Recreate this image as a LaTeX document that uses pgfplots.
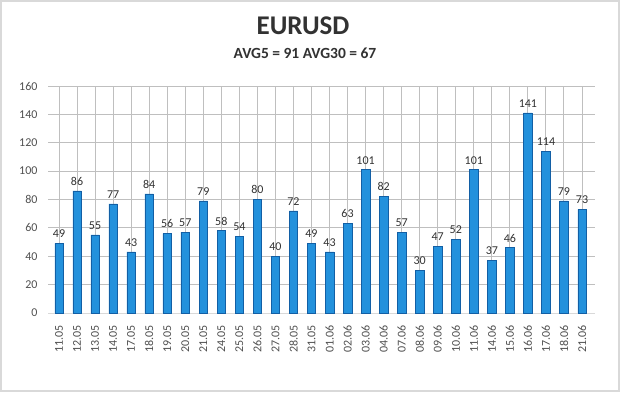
\documentclass[border=0pt]{standalone}
\usepackage{pgfplots}
\pgfplotsset{compat=1.18}
\usepackage{fontspec}
\setmainfont{Carlito}
\definecolor{barF}{RGB}{35,145,220}
\definecolor{barE}{RGB}{18,95,165}
\definecolor{txt}{RGB}{50,50,50}
\definecolor{tick}{RGB}{80,80,80}
\definecolor{grid}{RGB}{217,217,217}
\begin{document}
\begin{tikzpicture}[x=1pt,y=1pt]
\draw[grid, line width=2pt, fill=white] (1,1) rectangle (619,391);
\node[font=\bfseries\fontsize{27}{27}\selectfont, text=txt] at (303,366) {EURUSD};
\node[font=\bfseries\fontsize{15.5}{15.5}\selectfont, text=txt] at (305,339) {AVG5 = 91 AVG30 = 67};
\begin{axis}[
  at={(48pt,79pt)}, anchor=south west,
  scale only axis, width=547pt, height=227pt,
  ymin=0, ymax=160, ytick={0,20,...,160},
  xmin=-0.61, xmax=29.72,
  xtick={0,...,29},
  xticklabels={11.05,12.05,13.05,14.05,17.05,18.05,19.05,20.05,21.05,24.05,25.05,26.05,27.05,28.05,31.05,01.06,02.06,03.06,04.06,07.06,08.06,09.06,10.06,11.06,14.06,15.06,16.06,17.06,18.06,21.06},
  x tick label style={rotate=90, anchor=east, font=\fontsize{12}{12}\selectfont, text=tick},
  xticklabel shift=9pt,
  y tick label style={font=\fontsize{12}{12}\selectfont, text=tick},
  yticklabel shift=7pt,
  /pgf/number format/assume math mode=true,
  ymajorgrids, grid style={grid, line width=1pt},
  axis line style={draw=none},
  axis x line*=bottom,
  major tick length=0pt,
  xtick style={draw=none}, ytick style={draw=none},
  ybar, bar width=8.5pt,
  nodes near coords,
  every node near coord/.append style={font=\fontsize{12}{12}\selectfont, text=txt, yshift=2pt},
  clip=false,
]
\draw[grid, line width=1pt] (axis cs:-0.61,0) -- (axis cs:29.72,0);
\addplot[draw=barE, fill=barF, line width=0.5pt] coordinates {
(0,49) (1,86) (2,55) (3,77) (4,43) (5,84) (6,56) (7,57) (8,79) (9,58)
(10,54) (11,80) (12,40) (13,72) (14,49) (15,43) (16,63) (17,101) (18,82) (19,57)
(20,30) (21,47) (22,52) (23,101) (24,37) (25,46) (26,141) (27,114) (28,79) (29,73)};
\end{axis}
\end{tikzpicture}
\end{document}
